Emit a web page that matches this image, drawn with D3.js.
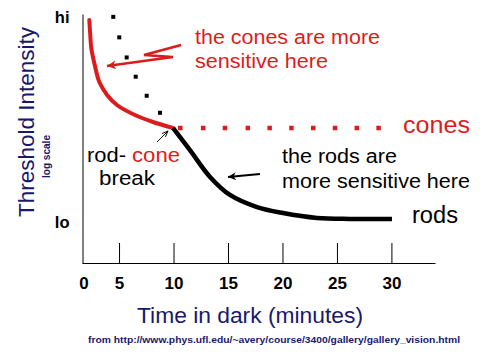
<!DOCTYPE html>
<html><head><meta charset="utf-8">
<script src="https://cdn.jsdelivr.net/npm/d3@7"></script>
<style>
html,body{margin:0;padding:0;background:#fff;}
svg{display:block;font-family:"Liberation Sans",Arial,sans-serif;}
</style></head>
<body><svg id="c" width="500" height="357"></svg>
<script>
// ---- data (time in minutes, threshold in arbitrary log units: 0 = lo, 10 = hi)
const xTickValues = [5, 10, 15, 20, 25, 30];
const xZeroLabel = "0";
const yTickValues = [0, 10];
const yTickLabels = ["lo", "hi"];

const coneTime  = [2.27, 2.36, 2.45, 2.77, 3.19, 3.90, 4.81, 6.46, 8.12, 9.95];
const coneThr   = [9.86, 9.12, 8.49, 7.66, 6.83, 6.20, 5.71, 5.22, 4.88, 4.59];

const rodTime   = [9.95, 11.51, 13.35, 15.18, 17.66, 20.05, 23.17, 26.2, 30.05];
const rodThr    = [4.59, 3.51, 2.20, 1.32, 0.73, 0.44, 0.20, 0.15, 0.15];

const rodExtTime = [4.47, 5.02, 5.70, 6.53, 7.54, 8.76];
const rodExtThr  = [10.01, 9.01, 8.03, 7.09, 6.16, 5.33];

const conePlateauTime = [10.6, 12.7, 14.7, 16.8, 18.8, 20.8, 22.8, 24.8, 26.8, 28.8];
const conePlateauThr  = 4.6;

// annotation arrows (data units)
const redArrowT = [10.69, 7.29, 9.95, 3.89];
const redArrowV = [8.64, 8.15, 8.05, 7.61];
const breakArrowT = [8.48, 9.49];
const breakArrowV = [3.90, 4.44];
const rodArrowT = [17.94, 15.0];
const rodArrowV = [2.34, 2.20];

const RED = "#dc1c1c", NAVY = "#18186e";

const svg = d3.select("#c");
const x = d3.scaleLinear().domain([1.6, 34]).range([82, 435]);
const y = d3.scaleLinear().domain([-2, 10.15]).range([263, 14]);

// defs for arrowheads
const defs = svg.append("defs");
function marker(id, color, w, h, filled) {
  const m = defs.append("marker").attr("id", id).attr("viewBox", "0 0 10 10")
    .attr("refX", 10).attr("refY", 5).attr("markerUnits", "userSpaceOnUse")
    .attr("markerWidth", w).attr("markerHeight", h).attr("orient", "auto");
  if (filled) m.append("path").attr("d", "M0,0L10,5L0,10L3,5Z").attr("fill", color);
  else m.append("path").attr("d", "M0,1L10,5L0,9").attr("fill", "none").attr("stroke", color).attr("stroke-width", 1.5);
}
marker("mRed", RED, 14, 9, true);
marker("mBlk", "#000", 12, 8, true);
marker("mThin", "#000", 7, 6, false);

// axes
const xAxis = d3.axisBottom(x).tickValues(xTickValues).tickSizeInner(-20).tickSizeOuter(0).tickPadding(14);
const gx = svg.append("g").attr("transform", `translate(0,${y.range()[0]})`).call(xAxis);
gx.selectAll("text").attr("font-size", 17).attr("font-weight", "bold").attr("fill", "#000")
  .attr("font-family", '"Liberation Sans",Arial,sans-serif');
gx.selectAll("line,path").attr("stroke", "#000");
svg.append("text").attr("x", x.range()[0] + 2).attr("y", y.range()[0] + 26)
  .attr("text-anchor", "middle").attr("font-size", 17).attr("font-weight", "bold").text(xZeroLabel);

const yAxis = d3.axisLeft(y).tickValues(yTickValues).tickFormat((d, i) => yTickLabels[i]).tickSize(0).tickPadding(13);
const gy = svg.append("g").attr("transform", `translate(${x.range()[0] + 0.5},0)`).call(yAxis);
gy.selectAll("text").attr("font-size", 16.5).attr("font-weight", "bold").attr("fill", "#000")
  .attr("font-family", '"Liberation Sans",Arial,sans-serif');
gy.select("path").attr("stroke", "#000");

// curves
const line = d3.line().x(d => x(d[0])).y(d => y(d[1])).curve(d3.curveCatmullRom.alpha(0.5));
svg.append("path").datum(coneTime.map((t, i) => [t, coneThr[i]]))
  .attr("d", line)
  .attr("fill", "none").attr("stroke", RED).attr("stroke-width", 4).attr("stroke-linecap", "round");
svg.append("path").datum(rodTime.map((t, i) => [t, rodThr[i]]))
  .attr("d", line)
  .attr("fill", "none").attr("stroke", "#000").attr("stroke-width", 4.5);

svg.append("g").selectAll("rect").data(rodExtTime).join("rect")
  .attr("x", (d) => x(d) - 2).attr("y", (d, i) => y(rodExtThr[i]) - 2)
  .attr("width", 4).attr("height", 4).attr("fill", "#000");
svg.append("g").selectAll("rect").data(conePlateauTime).join("rect")
  .attr("x", d => x(d) - 2).attr("y", y(conePlateauThr) - 2)
  .attr("width", 4.5).attr("height", 4.5).attr("fill", RED);

// arrows
const pl = (T, V) => T.map((t, i) => [x(t), y(V[i])]);
svg.append("path").attr("d", d3.line()(pl(redArrowT, redArrowV)))
  .attr("fill", "none").attr("stroke", RED).attr("stroke-width", 2.5).attr("stroke-linejoin", "miter")
  .attr("marker-end", "url(#mRed)");
svg.append("path").attr("d", d3.line()(pl(breakArrowT, breakArrowV)))
  .attr("fill", "none").attr("stroke", "#000").attr("stroke-width", 0.9).attr("marker-end", "url(#mThin)");
svg.append("path").attr("d", d3.line()(pl(rodArrowT, rodArrowV)))
  .attr("fill", "none").attr("stroke", "#000").attr("stroke-width", 2).attr("marker-end", "url(#mBlk)");

// texts
function txt(s, px, py, fs, len, color, opts = {}) {
  const t = svg.append("text").attr("x", px).attr("y", py).attr("font-size", fs)
    .attr("fill", color).text(s);
  if (len) t.attr("textLength", len).attr("lengthAdjust", "spacingAndGlyphs");
  if (opts.bold) t.attr("font-weight", "bold");
  if (opts.anchor) t.attr("text-anchor", opts.anchor);
  if (opts.transform) t.attr("transform", opts.transform);
  return t;
}
txt("the cones are more", 195, 44, 20, 185, RED);
txt("sensitive here", 195, 68, 20, 133, RED);
txt("the rods are", 282, 163, 20, 115, "#000");
txt("more sensitive here", 282, 188, 20, 188, "#000");
txt("cones", 403, 133, 23, 67, RED);
txt("rods", 412, 223, 23, 46, "#000");
txt("rod-", 87, 162, 20, 39, "#000");
txt("cone", 132, 162, 20, 48, RED);
txt("break", 99, 185, 20, 56, "#000");

txt("Time in dark (minutes)", 137, 323, 22, 226, NAVY);
txt("Threshold Intensity", 0, 0, 22, 190, NAVY, {anchor: "middle", transform: "translate(34,122) rotate(-90)"});
txt("log scale", 0, 0, 10, 43, NAVY, {bold: true, anchor: "middle", transform: "translate(50,156.5) rotate(-90)"});
txt("from http://www.phys.ufl.edu/~avery/course/3400/gallery/gallery_vision.html", 88, 343, 9.5, 372, NAVY, {bold: true});
</script>
</body></html>
